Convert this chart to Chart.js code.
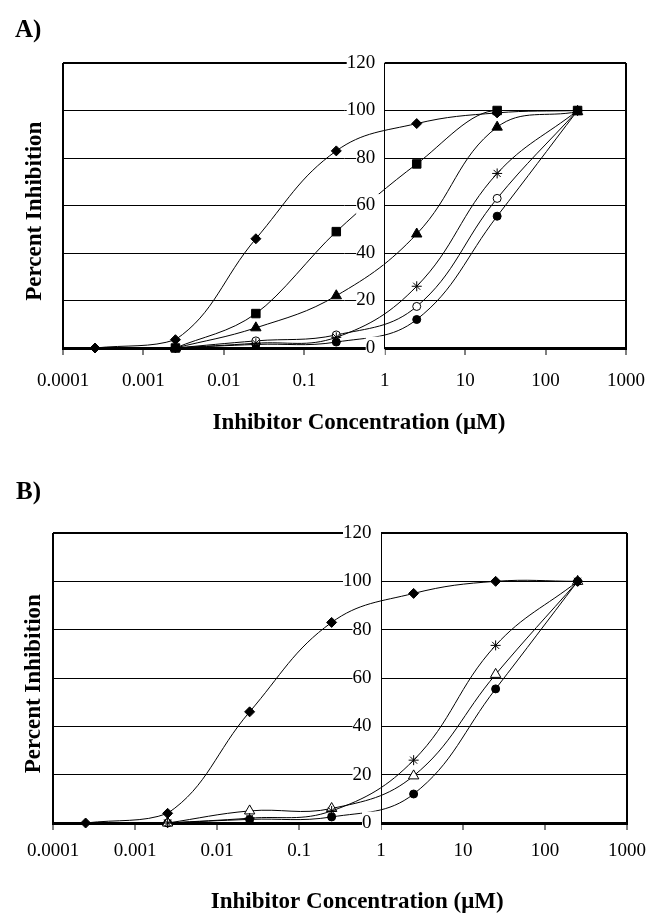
<!DOCTYPE html>
<html>
<head>
<meta charset="utf-8">
<script src="https://cdn.jsdelivr.net/npm/chart.js@4.4.1/dist/chart.umd.min.js"></script>
<style>
  html, body { margin: 0; padding: 0; background: #fff; }
  body { width: 670px; height: 913px; position: relative; overflow: hidden; }
  canvas { position: absolute; left: 0; }
  #chartA { top: 0; }
  #chartB { top: 450px; }
</style>
</head>
<body>
<canvas id="chartA" width="670" height="450"></canvas>
<canvas id="chartB" width="670" height="470"></canvas>
<script>
// Data

const concentrations = [0.00025, 0.0025, 0.025, 0.25, 2.5, 25, 250];
const xTickValues = [0.0001, 0.001, 0.01, 0.1, 1, 10, 100, 1000];
const xTickLabels = ["0.0001", "0.001", "0.01", "0.1", "1", "10", "100", "1000"];

// Panel A
const diamondA = [0, 3.5, 46, 83, 94.5, 99, 100];
const squareA = [null, 0, 14.5, 49, 77.5, 100, 100];
const triangleA = [null, 0, 8.5, 22, 48, 93, 99.5];
const starA = [null, 0, 2, 4.5, 26, 73.5, 100];
const openCircleA = [null, 0, 3, 5.5, 17.5, 63, 100];
const circleA = [null, 0, 1.5, 2.5, 12, 55.5, 100];

// Panel B
const diamondB = [0, 4, 46, 83, 95, 100, 100];
const starB = [null, 0, 2, 5, 26, 73.5, 100];
const openTriangleB = [null, 0, 5, 6, 19.5, 61.5, 100];
const circleB = [null, 0, 1.5, 2.5, 12, 55.5, 100];

// Helpers

Chart.defaults.font.family = "'Liberation Serif', 'Times New Roman', serif";
Chart.defaults.color = "#000";

const markers = {
    diamond: { pointStyle: "rectRot", radius: 5, fill: "#000" },
    square: { pointStyle: "rect", radius: 6, fill: "#000" },
    triangle: { pointStyle: "triangle", radius: 6, fill: "#000" },
    star: { pointStyle: "star", radius: 5, fill: "#000" },
    openCircle: { pointStyle: "circle", radius: 4, fill: "#fff" },
    circle: { pointStyle: "circle", radius: 4, fill: "#000" },
    openTriangle: { pointStyle: "triangle", radius: 6, fill: "#fff" },
};

function series(label, values, marker, mode) {
    const m = markers[marker];
    return {
        label: label,
        data: concentrations.map((c, i) => ({ x: c, y: values[i] })),
        borderColor: "#000",
        borderWidth: 1,
        tension: 0.4,
        cubicInterpolationMode: mode || "default",
        fill: false,
        clip: false,
        pointStyle: m.pointStyle,
        pointRadius: m.radius,
        pointBackgroundColor: m.fill,
        pointBorderColor: "#000",
        pointBorderWidth: 1,
    };
}

function makeChart(canvas, letter, datasets, dims) {
    return new Chart(canvas, {
        type: "line",
        data: { datasets: datasets },
        options: {
            responsive: false,
            animation: false,
            devicePixelRatio: 1,
            layout: {
                padding: { left: dims.left, right: dims.right, top: 0, bottom: 0 },
            },
            plugins: {
                legend: { display: false },
                tooltip: { enabled: false },
                title: {
                    display: true,
                    text: letter,
                    align: "start",
                    color: "#000",
                    font: { size: 25, weight: "bold" },
                    padding: { top: dims.titleTop, bottom: dims.titleBottom },
                },
            },
            scales: {
                x: {
                    type: "logarithmic",
                    min: 0.0001,
                    max: 1000,
                    afterBuildTicks: (s) => {
                        s.ticks = xTickValues.map((v) => ({ value: v }));
                    },
                    afterFit: (s) => {
                        s.height = dims.xHeight;
                    },
                    ticks: {
                        autoSkip: false,
                        maxRotation: 0,
                        padding: dims.xPad,
                        font: { size: 19 },
                        color: "#000",
                        callback: (v, i) => xTickLabels[i],
                    },
                    grid: {
                        color: (ctx) =>
                            ctx.index === 0 || ctx.index === xTickValues.length - 1 ? "#000" : "rgba(0,0,0,0)",
                        lineWidth: 2,
                        tickColor: "#000",
                        tickWidth: 1,
                        tickLength: 7,
                    },
                    border: { color: "#000", width: 3 },
                    title: {
                        display: true,
                        // leading spaces nudge the title right, as in the original
                        text: " ".repeat(dims.xTitleShift) + "Inhibitor Concentration (μM)",
                        color: "#000",
                        font: { size: 23, weight: "bold" },
                        padding: { top: 0, bottom: dims.xTitleBottom },
                    },
                },
                y: {
                    type: "linear",
                    min: 0,
                    max: 120,
                    position: { x: 1 },
                    ticks: {
                        stepSize: 20,
                        z: 1,
                        font: { size: 19 },
                        color: "#000",
                        showLabelBackdrop: true,
                        backdropColor: "#fff",
                        backdropPadding: 0,
                        callback: (v) => v + "  ",
                    },
                    grid: {
                        color: "#000",
                        lineWidth: (ctx) => (ctx.tick && ctx.tick.value === 120 ? 2 : 1),
                        drawTicks: false,
                    },
                    border: { color: "#000", width: 1, z: 2 },
                },
                yTitle: {
                    type: "linear",
                    position: "left",
                    afterFit: (s) => {
                        s.width = dims.yTitleWidth;
                    },
                    ticks: { display: false },
                    grid: { display: false },
                    border: { display: false },
                    title: {
                        display: true,
                        text: "Percent Inhibition  ",
                        color: "#000",
                        font: { size: 23, weight: "bold" },
                        padding: { top: dims.yTitlePad, bottom: 0 },
                    },
                },
            },
        },
    });
}

// Charts

const chartA = makeChart(
    document.querySelector("#chartA"),
    "A)",
    [
        series("Diamond", diamondA, "diamond"),
        series("Square", squareA, "square", "monotone"),
        series("Triangle", triangleA, "triangle"),
        series("Star", starA, "star"),
        series("Open circle", openCircleA, "openCircle"),
        series("Circle", circleA, "circle"),
    ],
    { left: 15, right: 44, titleTop: 16, titleBottom: 17, xHeight: 102, xPad: 15, xTitleBottom: 13, xTitleShift: 5, yTitleWidth: 48, yTitlePad: 6 }
);

const chartB = makeChart(
    document.querySelector("#chartB"),
    "B)",
    [
        series("Diamond", diamondB, "diamond"),
        series("Star", starB, "star"),
        series("Open triangle", openTriangleB, "openTriangle"),
        series("Circle", circleB, "circle"),
    ],
    { left: 16, right: 43, titleTop: 28, titleBottom: 25, xHeight: 97, xPad: 10, xTitleBottom: 4, xTitleShift: 6, yTitleWidth: 37, yTitlePad: 4 }
);
</script>
</body>
</html>
